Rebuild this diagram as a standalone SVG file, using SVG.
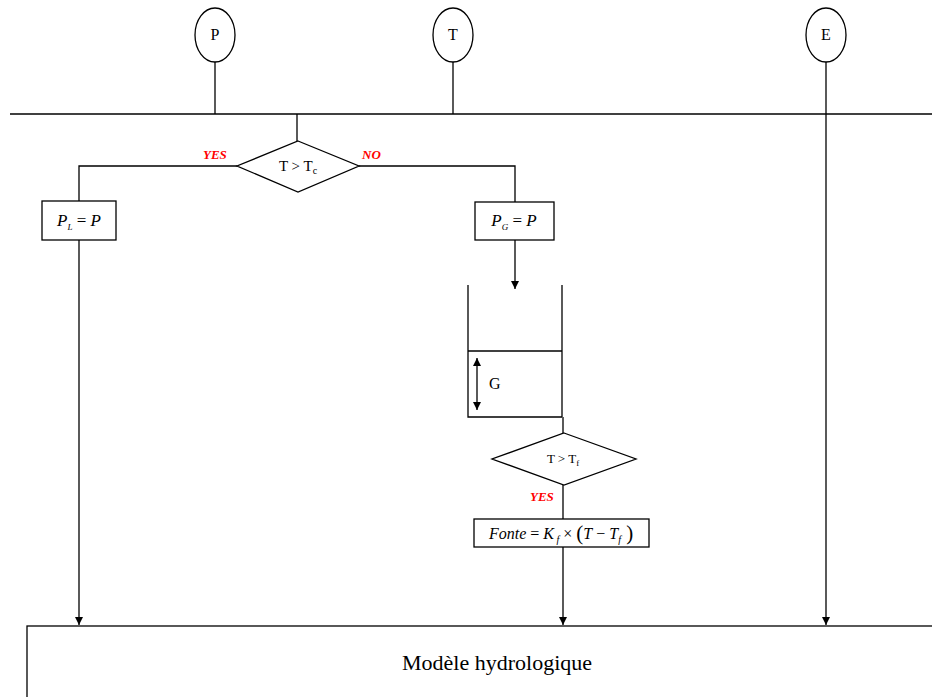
<svg xmlns="http://www.w3.org/2000/svg" width="932" height="697" viewBox="0 0 932 697" font-family="'Liberation Serif', 'DejaVu Serif', serif">
<defs>
<marker id="ah" viewBox="0 0 10 10" refX="10" refY="5" markerWidth="8" markerHeight="10" markerUnits="userSpaceOnUse" orient="auto-start-reverse"><path d="M0,0 L10,5 L0,10 z" fill="#000"/></marker>
<style>
.ln{stroke:#000;stroke-width:1.3;fill:none}
.sh{stroke:#000;stroke-width:1.3;fill:#fff}
text{font-family:'Liberation Serif','DejaVu Serif',serif;fill:#000}
.lab{font-weight:bold;font-style:italic;fill:#ff0000;font-size:13px}
.it{font-style:italic}
</style>
</defs>
<rect width="932" height="697" fill="#fff"/>
<g id="connectors">
<line class="ln" x1="215" y1="62" x2="215" y2="114"/>
<line class="ln" x1="453" y1="62" x2="453" y2="114"/>
<line class="ln" x1="826" y1="62" x2="826" y2="114"/>
<line class="ln" x1="10" y1="114" x2="932" y2="114"/>
<line class="ln" x1="297" y1="114" x2="297" y2="141"/>
<polyline class="ln" points="237,166 79,166 79,201"/>
<polyline class="ln" points="359,166 515,166 515,202"/>
<line class="ln" x1="79" y1="240" x2="79" y2="625" marker-end="url(#ah)"/>
<line class="ln" x1="515" y1="240" x2="515" y2="289" marker-end="url(#ah)"/>
<line class="ln" x1="563" y1="417" x2="563" y2="433"/>
<line class="ln" x1="563" y1="485" x2="563" y2="519"/>
<line class="ln" x1="563" y1="547" x2="563" y2="625" marker-end="url(#ah)"/>
<line class="ln" x1="826" y1="114" x2="826" y2="625" marker-end="url(#ah)"/>
</g>
<g id="node-P"><ellipse class="sh" cx="215" cy="35" rx="20" ry="27"/><text x="215" y="40" font-size="16" text-anchor="middle">P</text></g>
<g id="node-T"><ellipse class="sh" cx="453" cy="35" rx="20" ry="27"/><text x="453" y="40" font-size="16" text-anchor="middle">T</text></g>
<g id="node-E"><ellipse class="sh" cx="826" cy="35" rx="20" ry="27"/><text x="826" y="40" font-size="16" text-anchor="middle">E</text></g>
<g id="node-Tc">
<polygon class="sh" points="298,141 359,166 298,192 237,166"/>
<text x="298" y="171" font-size="15" text-anchor="middle">T &gt; T<tspan font-size="10" dy="3">c</tspan></text>
<text class="lab" x="203" y="159">YES</text>
<text class="lab" x="362" y="159">NO</text>
</g>
<g id="node-PL">
<rect class="sh" x="42" y="201" width="74" height="39"/>
<text x="79" y="226" font-size="17" text-anchor="middle"><tspan class="it">P</tspan><tspan class="it" font-size="9" dy="4">L</tspan><tspan dy="-4"> = </tspan><tspan class="it">P</tspan></text>
</g>
<g id="node-PG">
<rect class="sh" x="475" y="202" width="79" height="38"/>
<text x="514" y="226" font-size="17" text-anchor="middle"><tspan class="it">P</tspan><tspan class="it" font-size="9" dy="4">G</tspan><tspan dy="-4"> = </tspan><tspan class="it">P</tspan></text>
</g>
<g id="node-G">
<polyline class="ln" points="468,285 468,417 562,417"/>
<line class="ln" x1="562" y1="285" x2="562" y2="417"/>
<line class="ln" x1="468" y1="351" x2="562" y2="351"/>
<line class="ln" x1="477" y1="358" x2="477" y2="410" marker-start="url(#ah)" marker-end="url(#ah)"/>
<text x="489" y="389" font-size="16">G</text>
</g>
<g id="node-Tf">
<polygon class="sh" points="564,433 636,459 564,485 492,459"/>
<text x="563" y="463" font-size="13" text-anchor="middle">T &gt; T<tspan font-size="9" dy="3">f</tspan></text>
<text class="lab" x="530" y="501">YES</text>
</g>
<g id="node-Fonte">
<rect class="sh" x="474" y="519" width="175" height="28"/>
<text class="it" x="489" y="539" font-size="16">Fonte<tspan font-style="normal"> = </tspan>K<tspan font-size="10" dy="4"> f</tspan><tspan dy="-4" font-style="normal"> × </tspan><tspan font-style="normal" font-size="21" dy="1">(</tspan><tspan dy="-1">T</tspan><tspan font-style="normal"> − </tspan>T<tspan font-size="10" dy="4">f</tspan><tspan font-style="normal" font-size="21" dy="-3"> )</tspan></text>
</g>
<g id="node-model">
<rect class="sh" x="27" y="626" width="920" height="90"/>
<text x="497" y="670" font-size="22" text-anchor="middle">Modèle hydrologique</text>
</g>
</svg>
